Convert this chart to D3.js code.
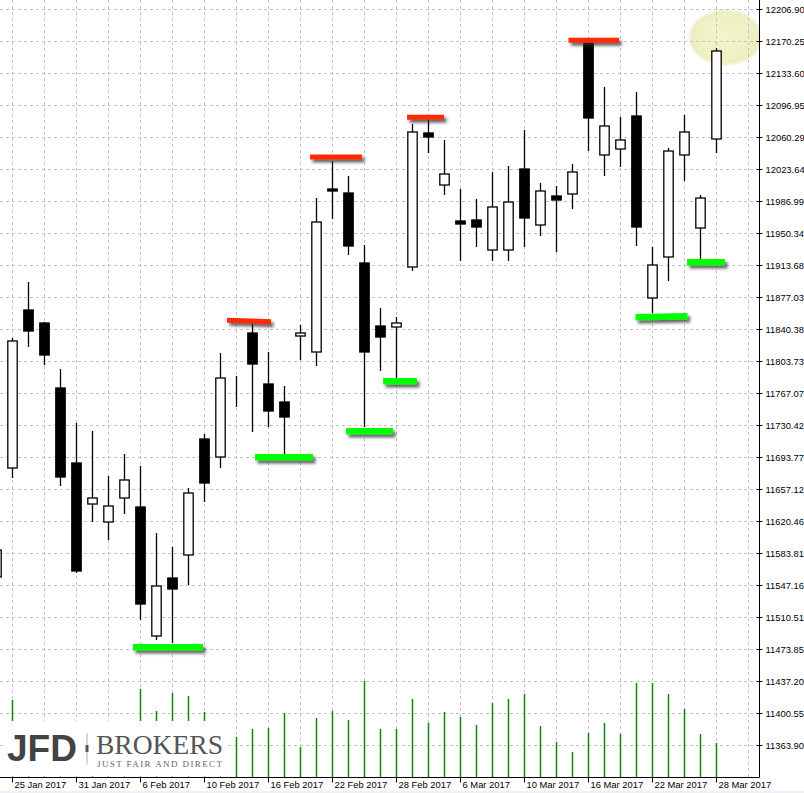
<!DOCTYPE html>
<html><head><meta charset="utf-8">
<script src="https://cdn.jsdelivr.net/npm/d3@7"></script>
<style>html,body{margin:0;padding:0;background:#fff;overflow:hidden}svg{display:block}</style>
</head><body>
<svg id="chart" width="804" height="793"></svg>
<script>
// ---------- DATA ----------
const dates = ["24 Jan 2017","25 Jan 2017","26 Jan 2017","27 Jan 2017","30 Jan 2017","31 Jan 2017",
"1 Feb 2017","2 Feb 2017","3 Feb 2017","6 Feb 2017","7 Feb 2017","8 Feb 2017","9 Feb 2017","10 Feb 2017",
"13 Feb 2017","14 Feb 2017","15 Feb 2017","16 Feb 2017","17 Feb 2017","20 Feb 2017","21 Feb 2017","22 Feb 2017",
"23 Feb 2017","24 Feb 2017","27 Feb 2017","28 Feb 2017","1 Mar 2017","2 Mar 2017","3 Mar 2017","6 Mar 2017",
"7 Mar 2017","8 Mar 2017","9 Mar 2017","10 Mar 2017","13 Mar 2017","14 Mar 2017","15 Mar 2017","16 Mar 2017",
"17 Mar 2017","20 Mar 2017","21 Mar 2017","22 Mar 2017","23 Mar 2017","24 Mar 2017","27 Mar 2017","28 Mar 2017"];

const openP  = [11556.33,11681.17,11862.14,11847.25,11772.80,11686.90,11639.94,11619.32,11646.81,11636.50,
11488.75,11555.18,11581.53,11714.39,11693.77,11775.09,11835.80,11777.38,11756.77,11832.36,11814.04,12000.73,
11996.15,11915.98,11843.82,11842.67,11911.39,12064.87,12005.31,11964.08,11965.23,11930.86,11930.86,12023.64,
11959.50,11992.71,11995.01,12169.10,12039.68,12046.55,12084.34,11875.89,11922.85,12039.68,11956.06,12058.00];
const highP  = [11598.71,11830.07,11894.21,11848.40,11794.56,11732.72,11723.55,11672.01,11697.21,11683.46,
11606.72,11590.69,11658.27,11720.12,11812.89,11786.55,11847.25,11814.04,11775.09,11844.96,11990.42,12032.80,
12015.62,11936.59,11864.43,11854.12,12075.18,12080.91,12056.86,12000.73,11989.28,12020.20,12027.08,12068.31,
12007.60,12004.17,12029.37,12171.39,12117.56,12083.20,12111.83,11934.30,12047.69,12085.49,11993.86,12162.23];
const lowP   = [11541.44,11669.72,11819.76,11799.15,11660.56,11560.91,11619.32,11598.71,11628.49,11507.08,
11484.17,11480.73,11547.16,11642.23,11681.17,11751.04,11722.41,11728.13,11697.21,11804.87,11798.00,11966.37,
11925.14,11728.13,11792.27,11784.26,11906.81,12041.97,11993.86,11918.27,11934.30,11918.27,11918.27,11934.30,
11946.90,11928.57,11977.82,12044.26,12015.62,12025.94,11935.45,11858.71,11895.36,12009.90,11920.56,12041.97];
const closeP = [11587.25,11826.64,11838.09,11810.60,11670.86,11563.20,11646.81,11637.65,11667.43,11525.40,
11546.02,11542.58,11652.54,11663.99,11784.26,11775.09,11800.29,11746.46,11739.59,11835.80,11962.93,11998.44,
11935.45,11814.04,11831.22,11847.25,12066.02,12060.29,12017.91,11960.64,11957.21,11980.12,11985.84,11967.52,
11998.44,11988.13,12020.20,12082.05,12072.89,12056.86,11957.21,11913.68,12044.26,12066.02,11990.42,12158.79];
// tick volume (thousands)
const volume = [45,77,40,48,52,44,38,46,42,88,66,84,81,65,50,40,48,49,64,30,59,66,57,96,48,48,
78,54,65,60,52,74,78,83,51,35,25,44,54,43,94,94,83,68,43,34];

const priceTicks = [12206.90,12170.25,12133.60,12096.95,12060.29,12023.64,11986.99,11950.34,11913.68,
11877.03,11840.38,11803.73,11767.07,11730.42,11693.77,11657.12,11620.46,11583.81,11547.16,11510.51,
11473.85,11437.20,11400.55,11363.90];
const dateTicks = ["25 Jan 2017","31 Jan 2017","6 Feb 2017","10 Feb 2017","16 Feb 2017","22 Feb 2017",
"28 Feb 2017","6 Mar 2017","10 Mar 2017","16 Mar 2017","22 Mar 2017","28 Mar 2017"];

// annotation lines: start/end in bar units, levels in price
const resistStart = [14.44, 19.63, 25.69, 35.78];
const resistEnd   = [17.19, 22.88, 28.00, 38.94];
const resistFrom  = [11850.34, 12037.38, 12082.86, 12171.05];
const resistTo    = [11848.74, 12037.38, 12082.86, 12171.05];
const supportStart = [8.56, 16.19, 21.88, 24.19, 39.97, 43.19];
const supportEnd   = [12.94, 19.81, 24.81, 26.31, 43.22, 45.56];
const supportFrom  = [11475.81, 11693.43, 11723.21, 11780.48, 11853.78, 11916.78];
const supportTo    = [11475.81, 11693.43, 11723.21, 11780.48, 11855.04, 11916.78];
const highlightBar = 45.6, highlightPrice = 12174.3, highlightHalfBars = 2.25, highlightHalfPrice = 31.5;

// ---------- LAYOUT ----------
const W = 804, H = 793, plotR = 759, plotB = 777;
const svg = d3.select("#chart");
const x = d3.scalePoint().domain(dates).range([-4, 716]);
const xi = d3.scaleLinear().domain([0, dates.length - 1]).range([-4, 716]);
const y = d3.scaleLinear().domain([11327.25, 12217.21]).range([plotB, 0]);
const yv = d3.scaleLinear().domain([0, 97]).range([plotB, 680]);
const font = "'Liberation Sans', Arial, sans-serif";

const defs = svg.append("defs");
defs.append("clipPath").attr("id","plotclip").append("rect")
  .attr("x",0).attr("y",0).attr("width",plotR).attr("height",plotB);
const sh = defs.append("filter").attr("id","shadow").attr("x","-20%").attr("y","-100%").attr("width","140%").attr("height","400%");
sh.append("feDropShadow").attr("dx",2.5).attr("dy",3).attr("stdDeviation",1.6)
  .attr("flood-color","#333").attr("flood-opacity",0.75);
const hb = defs.append("filter").attr("id","hblur").attr("x","-30%").attr("y","-30%").attr("width","160%").attr("height","160%");
hb.append("feGaussianBlur").attr("stdDeviation",1.5);
const rg = defs.append("radialGradient").attr("id","hgrad");
rg.append("stop").attr("offset","0%").attr("stop-color","#f4f4cc");
rg.append("stop").attr("offset","85%").attr("stop-color","#f0f0c4");
rg.append("stop").attr("offset","100%").attr("stop-color","#e8e8bc");

svg.append("rect").attr("width",W).attr("height",H).attr("fill","#fff");
svg.append("rect").attr("x",0).attr("y",791).attr("width",W).attr("height",2).attr("fill","#eef0f4");

const plot = svg.append("g").attr("clip-path","url(#plotclip)");

// highlight ellipse (behind grid)
plot.append("ellipse")
  .attr("cx", xi(highlightBar)).attr("cy", y(highlightPrice))
  .attr("rx", xi(highlightHalfBars) - xi(0))
  .attr("ry", y(highlightPrice - highlightHalfPrice) - y(highlightPrice))
  .attr("fill","url(#hgrad)").attr("filter","url(#hblur)");

// grid
const grid = plot.append("g").attr("stroke","#c3c3c3").attr("stroke-width",1).attr("stroke-dasharray","3,3");
grid.selectAll("line.h").data(priceTicks).join("line").attr("class","h")
  .attr("x1",0).attr("x2",plotR).attr("y1",d=>Math.round(y(d))+0.5).attr("y2",d=>Math.round(y(d))+0.5);
grid.selectAll("line.v").data(d3.range(1, 48, 2)).join("line").attr("class","v")
  .attr("x1",d=>Math.round(xi(d))+0.5).attr("x2",d=>Math.round(xi(d))+0.5).attr("y1",0).attr("y2",plotB);

// volume
plot.append("g").selectAll("line").data(volume).join("line")
  .attr("x1",(d,i)=>x(dates[i])+0.5).attr("x2",(d,i)=>x(dates[i])+0.5)
  .attr("y1",plotB).attr("y2",d=>yv(d)).attr("stroke","#0a880a").attr("stroke-width",1.5);

// candles
const candles = plot.append("g");
const bw = 9.4;
dates.forEach((d,i)=>{
  const cx = x(d) + 0.5;
  candles.append("line").attr("x1",cx).attr("x2",cx).attr("y1",y(highP[i])).attr("y2",y(lowP[i]))
    .attr("stroke","#000").attr("stroke-width",1.3);
  const top = y(Math.max(openP[i],closeP[i])), bot = y(Math.min(openP[i],closeP[i]));
  const bull = closeP[i] > openP[i];
  candles.append("rect").attr("x",cx-bw/2).attr("y",top).attr("width",bw).attr("height",Math.max(0,bot-top))
    .attr("fill", bull ? "#fff" : "#000").attr("stroke","#000").attr("stroke-width",1.3);
});

// annotation lines
const ann = plot.append("g").attr("filter","url(#shadow)");
resistStart.forEach((s,i)=>{
  ann.append("line").attr("x1",xi(s)).attr("x2",xi(resistEnd[i]))
    .attr("y1",y(resistFrom[i])).attr("y2",y(resistTo[i])).attr("stroke","#ff2a00").attr("stroke-width",5);
});
supportStart.forEach((s,i)=>{
  ann.append("line").attr("x1",xi(s)).attr("x2",xi(supportEnd[i]))
    .attr("y1",y(supportFrom[i])).attr("y2",y(supportTo[i])).attr("stroke","#00ff00").attr("stroke-width",6.5);
});

// logo panel
const logo = svg.append("g");
logo.append("rect").attr("x",5).attr("y",721).attr("width",222).attr("height",55.5).attr("fill","#fff");
logo.append("text").attr("x",7).attr("y",761).text("JFD")
  .attr("font-family","'Liberation Sans', Arial, sans-serif").attr("font-weight","bold")
  .attr("font-size",37).attr("textLength",70).attr("lengthAdjust","spacingAndGlyphs").attr("fill","#434343");
logo.append("line").attr("x1",87).attr("x2",87).attr("y1",733).attr("y2",765).attr("stroke","#b5b5b5").attr("stroke-width",1);
logo.append("rect").attr("x",85.5).attr("y",745).attr("width",3).attr("height",7).attr("fill","#555");
logo.append("text").attr("x",96).attr("y",754).text("BROKERS")
  .attr("font-family","'Liberation Serif', 'Times New Roman', serif")
  .attr("font-size",27).attr("textLength",127).attr("lengthAdjust","spacingAndGlyphs").attr("fill","#555");
logo.append("text").attr("x",97).attr("y",767).text("JUST FAIR AND DIRECT")
  .attr("font-family","'Liberation Serif', 'Times New Roman', serif")
  .attr("font-size",9).attr("textLength",125).attr("lengthAdjust","spacing").attr("fill","#666");

// axes lines
svg.append("line").attr("x1",0).attr("x2",plotR+0.5).attr("y1",plotB+0.5).attr("y2",plotB+0.5).attr("stroke","#000");
svg.append("line").attr("x1",plotR+0.5).attr("x2",plotR+0.5).attr("y1",0).attr("y2",plotB+0.5).attr("stroke","#000");

// price axis
const ya = svg.append("g").attr("transform",`translate(${plotR+0.5},0)`)
  .call(d3.axisRight(y).tickValues(priceTicks).tickFormat(d3.format(".2f")).tickSize(3).tickPadding(3));
ya.select(".domain").remove();
ya.selectAll(".tick").attr("transform",d=>`translate(0,${Math.round(y(d))+0.5})`);
ya.selectAll(".tick line").attr("x1",-3).attr("x2",3).attr("stroke","#000");
ya.selectAll(".tick text").attr("font-family",font).attr("font-size",9.4).attr("fill","#000").attr("dy","0.34em");

// date axis
const xa = svg.append("g").attr("transform",`translate(0,${plotB+0.5})`)
  .call(d3.axisBottom(x).tickValues(dateTicks).tickSize(5).tickPadding(2));
xa.select(".domain").remove();
xa.selectAll(".tick").attr("transform",d=>`translate(${x(d)+0.5},0)`);
xa.selectAll(".tick text").attr("font-family",font).attr("font-size",9.4).attr("fill","#000")
  .attr("text-anchor","start").attr("x",2).attr("y",4).attr("dy","0.71em");
xa.selectAll(".tick line").attr("stroke","#000");
</script>
</body></html>
